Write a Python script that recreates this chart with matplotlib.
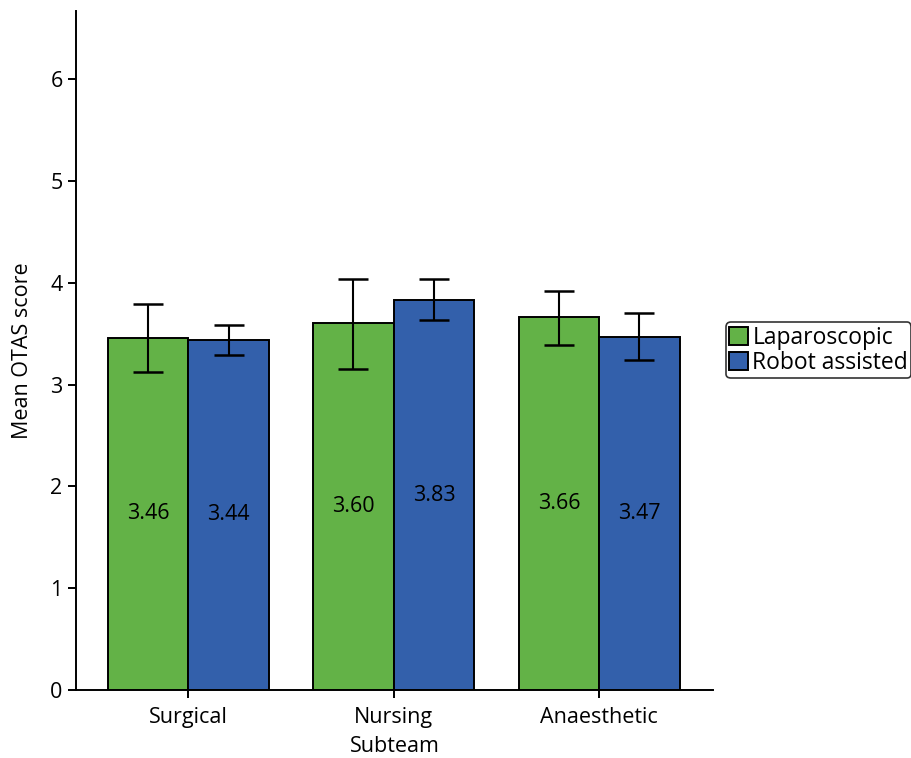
import numpy as np
import matplotlib.pyplot as plt

plt.rcParams['font.family'] = ['Open Sans', 'DejaVu Sans']

subteams = ['Surgical', 'Nursing', 'Anaesthetic']
lap_mean = [3.46, 3.60, 3.66]
lap_lo = [3.12, 3.15, 3.39]
lap_hi = [3.79, 4.04, 3.92]
rob_mean = [3.44, 3.83, 3.47]
rob_lo = [3.29, 3.63, 3.24]
rob_hi = [3.58, 4.04, 3.70]

green = '#63b247'
blue = '#3360ab'
fs = 15.5

fig = plt.figure(figsize=(9.12, 7.58), dpi=100)
ax = fig.add_axes([0.083, 0.0897, 0.699, 0.896])

x = np.arange(len(subteams))
w = 0.392

for off, mean, lo, hi, col, lab in [(-w / 2, lap_mean, lap_lo, lap_hi, green, 'Laparoscopic'),
                                    (w / 2, rob_mean, rob_lo, rob_hi, blue, 'Robot assisted')]:
    mean = np.array(mean)
    yerr = [mean - np.array(lo), np.array(hi) - mean]
    ax.bar(x + off, mean, w, color=col, edgecolor='black', linewidth=1.4, label=lab, zorder=2)
    ax.errorbar(x + off, mean, yerr=yerr, fmt='none', ecolor='black', elinewidth=1.5,
                capsize=11, capthick=1.8, zorder=3)
    for xi, m in zip(x + off, mean):
        ax.text(xi, m / 2, f'{m:.2f}', ha='center', va='center', fontsize=fs)

ax.set_xlim(-0.548, 2.555)
ax.set_ylim(0, 6.67)
ax.set_yticks(range(0, 7))
ax.set_xticks(x)
ax.set_xticklabels(subteams)
ax.tick_params(labelsize=fs, width=1.4, length=6)
ax.tick_params(axis='x', pad=6)
ax.spines['top'].set_visible(False)
ax.spines['right'].set_visible(False)
ax.spines['left'].set_linewidth(1.4)
ax.spines['bottom'].set_linewidth(1.4)
ax.set_ylabel('Mean OTAS score', fontsize=fs, labelpad=12)
ax.set_xlabel('Subteam', fontsize=fs, labelpad=6)

leg = ax.legend(loc='center left', bbox_to_anchor=(1.02, 0.5), fontsize=16.5,
                frameon=True, fancybox=True, edgecolor='black', handlelength=0.8,
                handleheight=0.8, handletextpad=0.2, borderpad=0.15, labelspacing=0.05,
                borderaxespad=0)
leg.get_frame().set_linewidth(1.2)

plt.savefig('out.png', dpi=100)
